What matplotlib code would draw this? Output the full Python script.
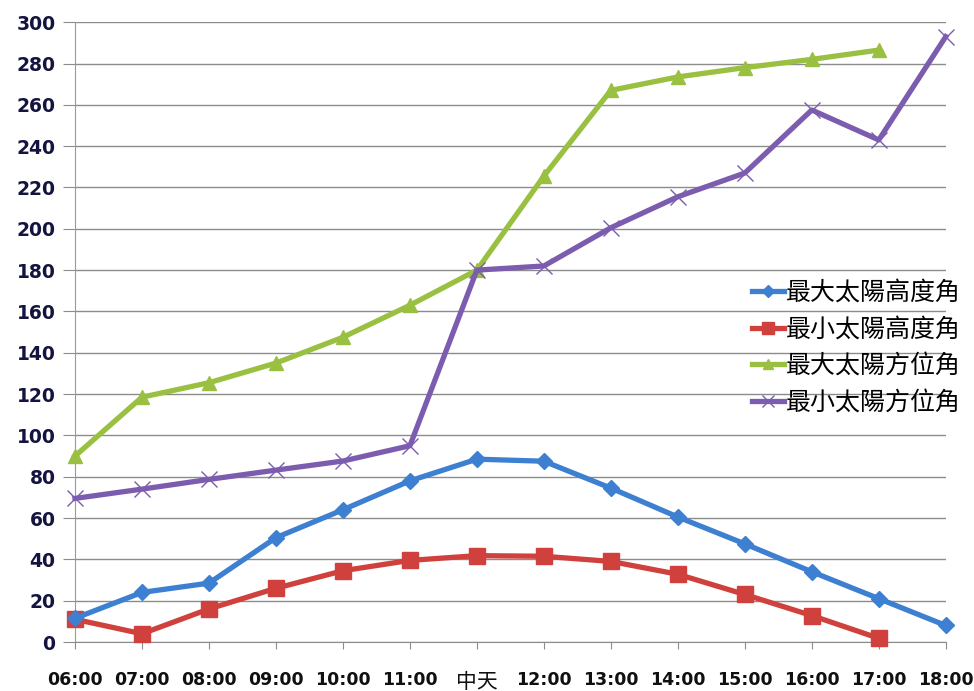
import matplotlib.pyplot as plt
import numpy as np

plt.rcParams['font.family'] = ['Noto Sans CJK TC', 'DejaVu Sans']

hours = ["06:00", "07:00", "08:00", "09:00", "10:00", "11:00", "中天",
         "12:00", "13:00", "14:00", "15:00", "16:00", "17:00", "18:00"]

# solar angles in degrees, None where no reading
maxAltitude = [11.5, 24, 28.5, 50.5, 64, 78, 88.5, 87.5, 74.5, 60.5, 47.5, 34, 21, 8]
minAltitude = [11, 4, 16, 26, 34.5, 39.5, 41.8, 41.5, 39, 32.8, 23, 12.8, 1.8, None]
maxAzimuth = [90, 118.5, 125.5, 135, 147.5, 163, 180, 225.5, 267, 273.5, 278, 282, 286.5, None]
minAzimuth = [69.5, 74, 78.7, 83.2, 87.6, 95, 180, 182, 200.5, 215.5, 227, 257.5, 243, 293]

labels = ["最大太陽高度角", "最小太陽高度角", "最大太陽方位角", "最小太陽方位角"]
colors = ['#3d7fd0', '#d0403d', '#99c040', '#7b5cae']

def toArray(vals):
    return np.array([np.nan if v is None else v for v in vals], dtype=float)

x = np.arange(len(hours))

fig = plt.figure(figsize=(9.74, 6.91), dpi=100)
ax = fig.add_axes([0.077, 0.0709, 0.894, 0.897])

lw = 3.8
ax.plot(x, toArray(maxAltitude), color=colors[0], lw=lw, marker='D', ms=8,
        label=labels[0], clip_on=False, zorder=4)
ax.plot(x, toArray(minAltitude), color=colors[1], lw=lw, marker='s', ms=11,
        label=labels[1], clip_on=False, zorder=3)
ax.plot(x, toArray(maxAzimuth), color=colors[2], lw=lw, marker='^', ms=10,
        label=labels[2], clip_on=False, zorder=3)
ax.plot(x, toArray(minAzimuth), color=colors[3], lw=lw, marker='x', ms=12, mew=1.0,
        label=labels[3], clip_on=False, zorder=3)

ax.set_xlim(0, len(hours) - 1)
ax.set_ylim(0, 300)
ax.set_yticks(np.arange(0, 301, 20))
ax.yaxis.grid(True, color='#8c8c8c', lw=1.0)
ax.set_axisbelow(True)

for side in ['top', 'right']:
    ax.spines[side].set_visible(False)
ax.spines['left'].set_color('#9a9a9a')
ax.spines['bottom'].set_color('#8c8c8c')

ax.tick_params(axis='y', length=9, color='#8c8c8c', labelsize=13.5, pad=5,
               labelcolor='#141440')
ax.tick_params(axis='x', length=5, color='#8c8c8c', labelsize=12.5, pad=16,
               labelcolor='#101010')
for lab in ax.get_yticklabels():
    lab.set_fontweight('bold')
    lab.set_family('DejaVu Sans')

ax.set_xticks(x)
ax.set_xticklabels(hours)
for lab in ax.get_xticklabels():
    if lab.get_text() == "中天":
        lab.set_fontweight('normal')
        lab.set_fontsize(15)
        lab.set_verticalalignment('center_baseline')
        lab.set_y(-0.013)
    else:
        lab.set_fontweight('bold')
        lab.set_family('DejaVu Sans')

fig.legend(loc='upper left', bbox_to_anchor=(0.772, 0.595), frameon=False,
           prop={'size': 18}, handlelength=1.3, handletextpad=0.05,
           labelspacing=0.42, borderpad=0, borderaxespad=0, markerscale=0.75)

plt.savefig("out.png", dpi=100)
